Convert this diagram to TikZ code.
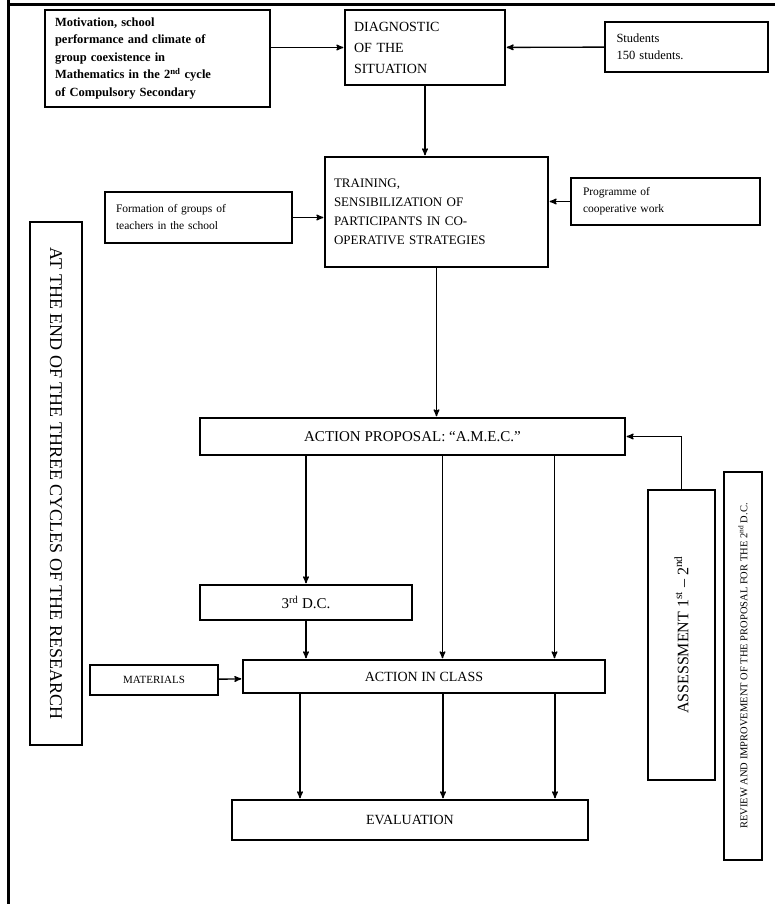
\documentclass[tikz,border=0pt]{standalone}
\usepackage{fontspec}
\setmainfont{Liberation Serif}
\usetikzlibrary{arrows}

\begin{document}
\begin{tikzpicture}[x=1pt,y=-1pt,>=stealth',shorten >=1pt,line width=1.4pt,
        box node/.style={rectangle,draw,inner sep=4pt,font=\fontsize{13}{18}\selectfont},
        caps node/.style={box node,font=\fontsize{14}{21}\selectfont},
        side node/.style={rectangle,draw,inner sep=2pt}]
        \useasboundingbox (0,0) rectangle (776,905);
        \draw[line width=3pt] (8,0) -- (8,905);
        \draw[line width=3pt] (8,4) -- (776,4);
        \node[box node,minimum width=225,minimum height=97,text width=205,align=left,
              font=\bfseries\fontsize{12.5}{17.5}\selectfont] (motiv) at (157.5,58.5)
              {Motivation, school\\performance and climate of\\group coexistence in\\Mathematics in the 2\textsuperscript{nd} cycle\\of Compulsory Secondary};
        \node[caps node,minimum width=160,minimum height=75,text width=142,align=left] (diag) at (425,47.5) {DIAGNOSTIC\\OF THE\\SITUATION};
        \node[box node,minimum width=163,minimum height=50,text width=140,align=left,
              font=\fontsize{12.5}{17}\selectfont] (students) at (686.5,47) {Students\\150 students.};
        \node[caps node,minimum width=223,minimum height=110,text width=205,align=left,
              font=\fontsize{13}{19}\selectfont] (training) at (436.5,212) {TRAINING,\\SENSIBILIZATION OF\\PARTICIPANTS IN CO-\\OPERATIVE STRATEGIES};
        \node[box node,minimum width=187,minimum height=51,text width=165,align=left,
              font=\fontsize{11.5}{17}\selectfont] (teachers) at (198.5,217.5) {Formation of groups of\\teachers in the school};
        \node[box node,minimum width=189,minimum height=47,text width=165,align=left,
              font=\fontsize{11.5}{17}\selectfont] (programme) at (665.5,201.5) {Programme of\\cooperative work};
        \node[caps node,minimum width=425,minimum height=37,font=\fontsize{15}{18}\selectfont] (proposal) at (412.5,436.5) {ACTION PROPOSAL: “A.M.E.C.”};
        \node[caps node,minimum width=212,minimum height=35,font=\fontsize{15}{18}\selectfont] (dc3) at (306,602.5) {3\textsuperscript{rd} D.C.};
        \node[caps node,minimum width=362,minimum height=33] (actclass) at (424,676.5) {ACTION IN CLASS};
        \node[caps node,minimum width=128,minimum height=30,font=\fontsize{11}{13}\selectfont] (materials) at (154,680) {MATERIALS};
        \node[caps node,minimum width=356,minimum height=40] (evaluation) at (410,820) {EVALUATION};
        \node[side node,rotate=-90,minimum width=523,minimum height=52,
              font=\fontsize{18}{20}\selectfont] (history) at (56,483.5) {AT THE END OF THE THREE CYCLES OF THE RESEARCH};
        \node[side node,rotate=90,minimum width=290,minimum height=67,
              font=\fontsize{16}{18}\selectfont] (rightin) at (681.5,635) {ASSESSMENT 1\textsuperscript{st} – 2\textsuperscript{nd}};
        \node[side node,rotate=90,minimum width=388,minimum height=38,
              font=\fontsize{10.5}{12}\selectfont] (rightout) at (743,666) {REVIEW AND IMPROVEMENT OF THE PROPOSAL FOR THE 2\textsuperscript{nd} D.C.};
        \path[->]
        (motiv.east |- diag.west) edge (diag.west)
        (students) edge (diag)
        (diag.south) edge (diag.south |- training.north)
        (teachers.east) edge (teachers.east -| training.west)
        (programme.west) edge (programme.west -| training.east)
        (training.south) edge (training.south |- proposal.north)
        (dc3 |- proposal.south) edge (dc3)
        (dc3) edge (dc3 |- actclass.north)
        ([xshift=30]proposal.south) edge ([xshift=30]proposal.south |- actclass.north)
        ([xshift=142]proposal.south) edge ([xshift=142]proposal.south |- actclass.north)
        (materials) edge (actclass)
        ([xshift=-124]actclass.south) edge ([xshift=-124]actclass.south |- evaluation.north)
        ([xshift=19]actclass.south) edge ([xshift=19]actclass.south |- evaluation.north)
        ([xshift=131]actclass.south) edge ([xshift=131]actclass.south |- evaluation.north)
        ;
        \draw[->] (rightin.east) |- (proposal.east);
        \end{tikzpicture}
\end{document}
